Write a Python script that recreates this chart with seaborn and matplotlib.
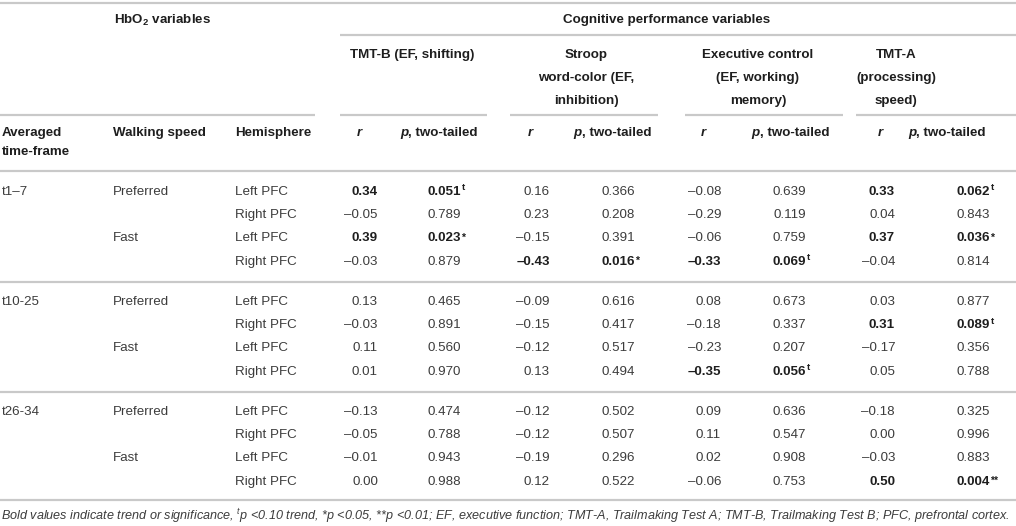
import matplotlib
matplotlib.use("Agg")
import matplotlib.pyplot as plt
import seaborn as sns

# ---------------- data ----------------
time_frames = ["t1–7", "t10-25", "t26-34"]
speeds = ["Preferred", "Fast"]
hemispheres = ["Left PFC", "Right PFC"]

tests = ["TMT-B", "Stroop", "Executive", "TMT-A"]
test_titles = [
    ["TMT-B (EF, shifting)"],
    ["Stroop", "word-color (EF,", "inhibition)"],
    ["Executive control", "(EF, working)", "memory)"],
    ["TMT-A", "(processing)", "speed)"],
]

tmtb_r = [0.34, -0.05, 0.39, -0.03, 0.13, -0.03, 0.11, 0.01, -0.13, -0.05, -0.01, 0.00]
tmtb_p = [0.051, 0.789, 0.023, 0.879, 0.465, 0.891, 0.560, 0.970, 0.474, 0.788, 0.943, 0.988]
tmtb_m = ["t", "", "*", "", "", "", "", "", "", "", "", ""]

stroop_r = [0.16, 0.23, -0.15, -0.43, -0.09, -0.15, -0.12, 0.13, -0.12, -0.12, -0.19, 0.12]
stroop_p = [0.366, 0.208, 0.391, 0.016, 0.616, 0.417, 0.517, 0.494, 0.502, 0.507, 0.296, 0.522]
stroop_m = ["", "", "", "*", "", "", "", "", "", "", "", ""]

exec_r = [-0.08, -0.29, -0.06, -0.33, 0.08, -0.18, -0.23, -0.35, 0.09, 0.11, 0.02, -0.06]
exec_p = [0.639, 0.119, 0.759, 0.069, 0.673, 0.337, 0.207, 0.056, 0.636, 0.547, 0.908, 0.753]
exec_m = ["", "", "", "t", "", "", "", "t", "", "", "", ""]

tmta_r = [0.33, 0.04, 0.37, -0.04, 0.03, 0.31, -0.17, 0.05, -0.18, 0.00, -0.03, 0.50]
tmta_p = [0.062, 0.843, 0.036, 0.814, 0.877, 0.089, 0.356, 0.788, 0.325, 0.996, 0.883, 0.004]
tmta_m = ["t", "", "*", "", "", "t", "", "", "", "", "", "**"]

r_vals = [tmtb_r, stroop_r, exec_r, tmta_r]
p_vals = [tmtb_p, stroop_p, exec_p, tmta_p]
marks = [tmtb_m, stroop_m, exec_m, tmta_m]

footnote = ("Bold values indicate trend or significance, $^{t}$p <0.10 trend, *p <0.05, "
            "**p <0.01; EF, executive function; TMT-A, Trailmaking Test A; "
            "TMT-B, Trailmaking Test B; PFC, prefrontal cortex.")

# ---------------- style ----------------
sns.set_theme(style="white")
plt.rcParams["font.family"] = ["Liberation Sans", "DejaVu Sans"]
plt.rcParams["mathtext.fontset"] = "custom"
plt.rcParams["mathtext.rm"] = "Liberation Sans"
plt.rcParams["mathtext.it"] = "Liberation Sans:italic"
plt.rcParams["mathtext.bf"] = "Liberation Sans:bold"

TXT = "#3c3c3c"
BOLD = "#1e1e1e"
LINE = "#c9c9c9"
FS = 9.6

fig = plt.figure(figsize=(10.16, 5.26), dpi=100)
ax = fig.add_axes([0, 0, 1, 1])
ax.set_xlim(0, 1016)
ax.set_ylim(526, 0)
ax.axis("off")
sns.despine(ax=ax, left=True, bottom=True)

def line(y, x0, x1):
    ax.hlines(y, x0, x1, color=LINE, lw=1.6)

# rules
line(3, 0, 1016)
line(35, 340, 1016)
for x0, x1 in [(0, 315), (340, 487), (510, 658), (685, 843), (856, 1016)]:
    line(115, x0, x1)
line(171, 0, 1016)
line(282, 0, 1016)
line(392, 0, 1016)
line(500, 0, 1016)

# top headers
ax.text(114, 20, r"HbO$_\mathbf{2}$ variables", fontsize=FS, weight="bold", color=BOLD, va="center")
ax.text(563, 20, "Cognitive performance variables", fontsize=FS, weight="bold", color=BOLD, va="center")

title_pos = [(350, "left"), (586, "center"), (758, "center"), (896, "center")]
for (tx, ha), lines_ in zip(title_pos, test_titles):
    for k, s in enumerate(lines_):
        ax.text(tx, 55 + 23 * k, s, fontsize=FS, weight="bold", color=BOLD, va="center", ha=ha)

# column headers
ax.text(2, 133, "Averaged", fontsize=FS, weight="bold", color=BOLD, va="center")
ax.text(2, 152, "time-frame", fontsize=FS, weight="bold", color=BOLD, va="center")
ax.text(113, 133, "Walking speed", fontsize=FS, weight="bold", color=BOLD, va="center")
ax.text(235, 133, "Hemisphere", fontsize=FS, weight="bold", color=BOLD, va="center")
r_head_x = [357, 528, 701, 878]
p_head_x = [400, 573, 751, 908]
for rx, px in zip(r_head_x, p_head_x):
    ax.text(rx, 133, "r", fontsize=FS, weight="bold", style="italic", color=BOLD, va="center")
    ax.text(px, 133, "p", fontsize=FS, weight="bold", style="italic", color=BOLD, va="center")
    ax.text(px + 8.5, 133, ", two-tailed", fontsize=FS, weight="bold", color=BOLD, va="center")

# body
r_right = [378, 550, 721, 895]
p_right = [461, 635, 806, 990]

row = 0
for g, tf in enumerate(time_frames):
    for si, sp in enumerate(speeds):
        for hi, hm in enumerate(hemispheres):
            y = 192 + 110 * g + 23.2 * (si * 2 + hi)
            if si == 0 and hi == 0:
                ax.text(2, y, tf, fontsize=FS, color=TXT, va="center")
            if hi == 0:
                ax.text(113, y, sp, fontsize=FS, color=TXT, va="center")
            ax.text(235, y, hm, fontsize=FS, color=TXT, va="center")
            for t in range(len(tests)):
                rv = r_vals[t][row]
                pv = p_vals[t][row]
                mk = marks[t][row]
                bold = mk != ""
                col = BOLD if bold else TXT
                w = "bold" if bold else "normal"
                rs = ("–" if rv < 0 else "") + f"{abs(rv):.2f}"
                ax.text(r_right[t], y, rs, fontsize=FS, color=col, weight=w, va="center", ha="right")
                ax.text(p_right[t], y, f"{pv:.3f}", fontsize=FS, color=col, weight=w, va="center", ha="right")
                if mk:
                    if mk == "t":
                        ax.text(p_right[t] + 0.5, y - 4, mk, fontsize=6.8, color=col, weight="bold",
                                va="center", ha="left")
                    else:
                        ax.text(p_right[t] + 0.5, y - 1, mk, fontsize=7.5, color=col, weight="bold",
                                va="center", ha="left")
            row += 1

# footnote, scaled to span the table width
fn = ax.text(1, 516, footnote, fontsize=8, style="italic", color=TXT, va="center", ha="left")
fig.canvas.draw()
wpx = fn.get_window_extent().width
fn.set_fontsize(8 * 1008 / wpx)

fig.savefig("out.png", dpi=100)
